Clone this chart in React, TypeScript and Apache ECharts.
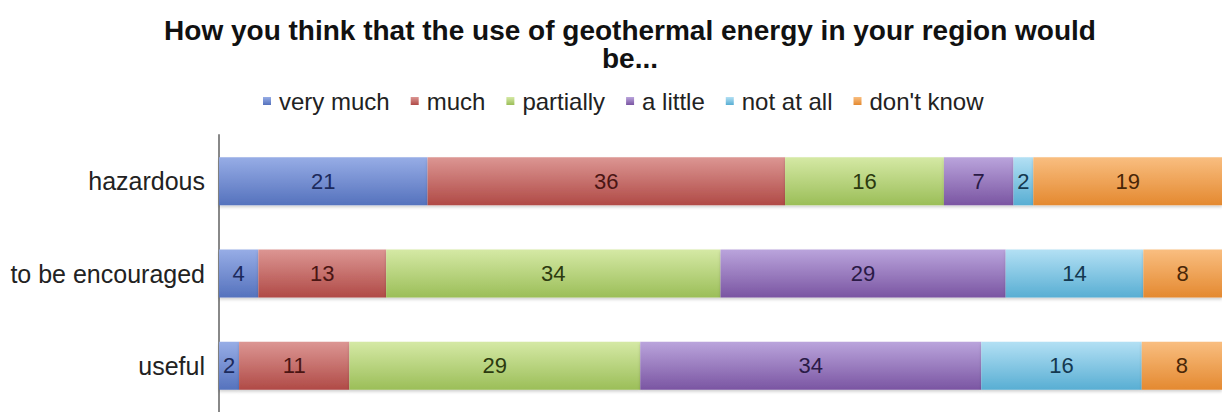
import React, { useEffect, useRef } from "react";
import * as echarts from "echarts";

// Survey answers, in percent, for each statement (top to bottom)
const categories = ["hazardous", "to be encouraged", "useful"];
const answerNames = ["very much", "much", "partially", "a little", "not at all", "don't know"];
const veryMuch = [21, 4, 2];
const much = [36, 13, 11];
const partially = [16, 34, 29];
const aLittle = [7, 29, 34];
const notAtAll = [2, 14, 16];
const dontKnow = [19, 8, 8];

const answerValues = [veryMuch, much, partially, aLittle, notAtAll, dontKnow];

// gradient top, gradient bottom, label colour
const palette: [string, string, string][] = [
  ["#97ADE6", "#5572BD", "#1C2A5C"],
  ["#DC9693", "#B04A46", "#4A1513"],
  ["#D5E9A5", "#9BBE58", "#2C3A0F"],
  ["#BAA4DC", "#7A55A2", "#2A1A46"],
  ["#B3E0F4", "#58AED3", "#143850"],
  ["#F9BE80", "#E48930", "#492607"],
];

const FONT = "'Liberation Sans', Arial, Helvetica, sans-serif";

export default function App() {
  const ref = useRef<HTMLDivElement>(null);

  useEffect(() => {
    if (!ref.current) return;
    document.body.style.margin = "0";
    const chart = echarts.init(ref.current, null, { renderer: "svg" });

    // each row is shown as a 100% stacked bar
    const totals = categories.map((_, i) =>
      answerValues.reduce((s, arr) => s + arr[i], 0)
    );

    const series = answerNames.map((name, k) => {
      const [top, bottom, labelColor] = palette[k];
      return {
        name,
        type: "bar",
        stack: "all",
        barWidth: "52%",
        data: answerValues[k].map((v, i) => ({
          value: (v / totals[i]) * 100,
          raw: v,
        })),
        itemStyle: {
          color: new echarts.graphic.LinearGradient(0, 0, 0, 1, [
            { offset: 0, color: top },
            { offset: 1, color: bottom },
          ]),
          shadowColor: "rgba(0,0,0,0.18)",
          shadowBlur: 3,
          shadowOffsetY: 2,
        },
        label: {
          show: true,
          position: "inside",
          color: labelColor,
          fontFamily: FONT,
          fontSize: 22,
          formatter: (p: any) => String(p.data.raw),
        },
      };
    });

    chart.setOption({
      animation: false,
      backgroundColor: "#ffffff",
      title: {
        text: "How you think that the use of geothermal energy in your region would\nbe...",
        left: 625,
        top: 11,
        textAlign: "center",
        textStyle: {
          fontFamily: FONT,
          fontWeight: "bold",
          fontSize: 28,
          lineHeight: 28,
          color: "#111111",
        },
      },
      legend: {
        data: answerNames.map((name, k) => ({
          name,
          itemStyle: {
            color: new echarts.graphic.LinearGradient(0, 0, 0, 1, [
              { offset: 0, color: palette[k][0] },
              { offset: 1, color: palette[k][1] },
            ]),
          },
        })),
        left: 258,
        top: 84,
        icon: "rect",
        itemWidth: 8,
        itemHeight: 8,
        itemGap: 21,
        textStyle: {
          fontFamily: FONT,
          fontSize: 24,
          color: "#222222",
          padding: [0, 0, 0, 3],
        },
      },
      grid: {
        left: 219,
        right: -6,
        top: 135,
        bottom: -2,
        containLabel: false,
      },
      xAxis: {
        type: "value",
        min: 0,
        max: 100,
        show: false,
      },
      yAxis: {
        type: "category",
        inverse: true,
        data: categories,
        axisLine: { show: true, lineStyle: { color: "#888888", width: 2 } },
        axisTick: { show: false },
        splitLine: { show: false },
        axisLabel: {
          fontFamily: FONT,
          fontSize: 25,
          color: "#222222",
          margin: 14,
        },
      },
      series,
    });

    return () => chart.dispose();
  }, []);

  return <div ref={ref} style={{ width: 1222, height: 412 }} />;
}
